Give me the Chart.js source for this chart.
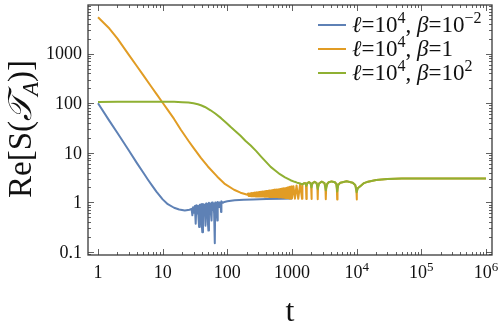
<!DOCTYPE html>
<html>
<head>
<meta charset="utf-8">
<script src="https://cdn.jsdelivr.net/npm/chart.js@4.4.0/dist/chart.umd.min.js"></script>
<style>
  html, body { margin: 0; padding: 0; background: #fff; }
</style>
</head>
<body>
<canvas id="c" width="500" height="329"></canvas>
<script>
/* ---- values (log-log) ---- */

// l=10^4, beta=10^-2
const blueT = [1, 1.5, 2, 3, 4, 5, 6, 7, 8, 10, 12, 15, 18, 22, 26, 28, 28.8, 29.5, 30.5, 31.5, 32.4, 33.2, 34, 35, 36, 36.6,
  37.5, 38.5, 39.5, 40.3, 41, 42, 43, 44, 45, 46, 47, 48, 49, 50, 51, 52, 53.5, 55, 56, 57, 58, 59.5, 61, 62.5, 64, 65,
  66.5, 68, 69, 70, 71, 73, 75, 77, 78.5, 80, 81, 85, 90, 100, 130, 180, 250, 400, 700, 1000];
const blueV = [100, 44, 25, 11.1, 6.2, 4.0, 2.8, 2.1, 1.65, 1.15, 0.92, 0.78, 0.72, 0.69, 0.71, 0.74, 0.55, 0.8, 0.62, 0.85, 0.37, 0.88, 0.6, 0.86, 0.45, 0.32,
  0.9, 0.5, 0.92, 0.35, 0.25, 0.93, 0.55, 0.9, 0.6, 0.34, 0.95, 0.5, 0.92, 0.4, 0.27, 0.98, 0.6, 0.95, 0.55, 0.43, 1.0, 0.7, 0.95, 0.6, 0.15, 1.0,
  0.75, 0.98, 0.55, 0.43, 1.02, 0.8, 1.0, 0.8, 0.95, 0.64, 1.05, 0.98, 1.02, 1.05, 1.1, 1.13, 1.15, 1.17, 1.19, 1.2];

// l=10^4, beta=1
const orangeT = [1, 1.5, 2, 3, 4, 5, 6.6, 8, 10, 12.5, 15, 19, 25, 30, 39, 50, 70, 90, 127, 160, 205,
  209, 212, 216, 220, 224, 228, 232, 236, 240, 245, 250, 254, 259, 264, 269, 274, 279, 284, 290, 295, 301, 307, 313, 319,
  325, 331, 338, 345, 352, 359, 366, 373, 381, 389, 397, 405, 413, 422, 431, 440, 449, 458, 468, 478, 488, 498, 509, 520,
  531, 542, 554, 566, 578, 590, 603, 616, 629, 643, 657, 671, 686, 701, 716, 732, 748, 765, 782, 800, 818, 833, 851, 870,
  889, 909, 930, 952, 976, 1000, 1053, 1111, 1176, 1250, 1333,
  1429, 1450, 1530, 1610, 1645, 1667, 1690, 1730, 1830, 1930, 1975, 2000, 2025, 2080, 2240, 2400,
  2470, 2500, 2530, 2620, 2880, 3180, 3290, 3333, 3380, 3500, 3700, 4100, 4600, 4850, 4940, 5000, 5060, 5200,
  5600, 7000, 8700, 9500, 9880, 10000, 10120, 10500, 11500, 13000, 15000, 20000, 30000, 50000, 100000, 1000000];
const orangeV = [5400, 3200, 2000, 945, 555, 367, 220, 154, 102, 67.5, 48.2, 29.5, 17.5, 12.6, 7.9, 5.3, 3.3, 2.4, 1.8, 1.57, 1.43,
  1.50, 1.34, 1.51, 1.34, 1.52, 1.34, 1.53, 1.33, 1.54, 1.33, 1.55, 1.33, 1.56, 1.33, 1.57, 1.32, 1.58, 1.32, 1.59, 1.32, 1.60, 1.32, 1.62, 1.31,
  1.63, 1.31, 1.64, 1.31, 1.65, 1.31, 1.66, 1.30, 1.68, 1.30, 1.69, 1.30, 1.70, 1.30, 1.72, 1.29, 1.73, 1.29, 1.74, 1.29, 1.76, 1.29, 1.77, 1.28,
  1.79, 1.28, 1.80, 1.28, 1.82, 1.28, 1.83, 1.27, 1.85, 1.27, 1.86, 1.27, 1.88, 1.26, 1.90, 1.25, 1.92, 1.24, 1.94, 1.23, 1.96, 1.22, 2.0, 1.22,
  2.03, 1.2, 2.06, 1.2, 2.09, 1.2, 2.12, 1.19, 2.2, 1.18, 2.3,
  1.18, 2.3, 2.42, 2.42, 2.3, 1.17, 2.3, 2.45, 2.55, 2.45, 2.2, 1.17, 2.2, 2.45, 2.6, 2.45,
  2.1, 1.16, 2.1, 2.4, 2.62, 2.45, 2.0, 1.16, 2.0, 2.35, 2.55, 2.65, 2.55, 2.35, 1.95, 1.15, 1.95, 2.25,
  2.5, 2.66, 2.5, 2.25, 1.9, 1.15, 1.85, 1.95, 2.15, 2.45, 2.62, 2.82, 2.95, 3.02, 3.05, 3.05];

// l=10^4, beta=10^2
const greenT = [1, 2, 5, 10, 15, 20, 25, 30, 35, 39, 45, 55, 65, 80, 95, 113, 135, 160, 190, 230, 280, 330, 390, 468, 550,
  650, 780, 950, 1100, 1200, 1350, 1429, 1530, 1610,
  1667, 1730, 1830, 1930, 2000, 2080, 2240, 2400, 2500, 2620, 2880, 3180, 3333, 3500, 3700, 4100, 4600, 4850,
  5000, 5200, 5600, 7000, 8700, 9500, 10000, 10500, 11500, 13000, 15000, 20000, 30000, 50000, 100000, 1000000];
const greenV = [106, 107, 107.5, 107, 106.5, 105, 103, 100, 95.5, 91, 84, 72, 62, 50, 41, 33, 27, 22, 17.5, 14, 10.8, 8.5, 6.7, 5.2, 4.4,
  3.7, 3.2, 2.8, 2.6, 2.5, 2.4, 2.3, 2.42, 2.42,
  2.15, 2.45, 2.55, 2.45, 2.0, 2.45, 2.6, 2.45, 1.85, 2.4, 2.62, 2.45, 1.75, 2.35, 2.55, 2.65, 2.55, 2.35,
  1.65, 2.25, 2.5, 2.66, 2.5, 2.25, 1.6, 1.95, 2.15, 2.45, 2.62, 2.82, 2.95, 3.02, 3.05, 3.05];

const seriesColors = ['#5E81B5', '#E19C24', '#8FB032'];

// legend entries as [text, style] pieces (style: '' roman, 'i' italic, 'sup' superscript)
const legendLabels = [
  [['ℓ', 'i'], ['=10', ''], ['4', 'sup'], [', ', ''], ['β', 'i'], ['=10', ''], ['−2', 'sup']],
  [['ℓ', 'i'], ['=10', ''], ['4', 'sup'], [', ', ''], ['β', 'i'], ['=1', '']],
  [['ℓ', 'i'], ['=10', ''], ['4', 'sup'], [', ', ''], ['β', 'i'], ['=10', ''], ['2', 'sup']]
];

const xTickValues = [1, 10, 100, 1000, 1e4, 1e5, 1e6];
const xTickLabels = [[['1', '']], [['10', '']], [['100', '']], [['1000', '']],
  [['10', ''], ['4', 'sup']], [['10', ''], ['5', 'sup']], [['10', ''], ['6', 'sup']]];
const yTickValues = [0.1, 1, 10, 100, 1000];
const yTickLabels = ['0.1', '1', '10', '100', '1000'];

const xTitle = 't';
const yTitle = [['Re[S(', ''], ['𝒯', 'i'], ['A', 'sub'], [')]', '']];

/* ---- helpers ---- */
const SERIF = '"Liberation Serif", "DejaVu Serif", serif';

function zip(ts, vs) {
  return ts.map((t, i) => ({ x: t, y: vs[i] }));
}

function pieceFont(st, size) {
  const small = (st === 'sup' || st === 'sub');
  const px = small ? Math.round(size * 0.7) : size;
  const it = (st === 'i' || st === 'sub') ? 'italic ' : '';
  return it + px + 'px ' + SERIF;
}

function drawPieces(ctx, pieces, x, y, size, align) {
  let w = 0;
  pieces.forEach(([s, st]) => { ctx.font = pieceFont(st, size); w += ctx.measureText(s).width; });
  let cx = align === 'center' ? x - w / 2 : x;
  pieces.forEach(([s, st]) => {
    ctx.font = pieceFont(st, size);
    const dy = st === 'sup' ? -size * 0.4 : (st === 'sub' ? size * 0.2 : 0);
    ctx.fillText(s, cx, y + dy);
    cx += ctx.measureText(s).width;
  });
}

// frame, inside ticks, tick labels, titles and legend (Mathematica-like look)
const framePlugin = {
  id: 'frame',
  afterDatasetsDraw(chart) {
    const { ctx, chartArea: a, scales: { x, y } } = chart;
    ctx.save();
    ctx.strokeStyle = '#3a3a3a';
    ctx.lineWidth = 1.3;
    ctx.strokeRect(a.left, a.top, a.right - a.left, a.bottom - a.top);

    ctx.lineWidth = 0.8;
    ctx.beginPath();
    for (let d = -2; d <= 6; d++) {
      for (let m = 1; m <= 9; m++) {
        const v = m * Math.pow(10, d);
        const len = m === 1 ? 6 : 3;
        if (v >= x.min && v <= x.max && d >= 0) {
          const px = Math.round(x.getPixelForValue(v)) + 0.5;
          ctx.moveTo(px, a.bottom); ctx.lineTo(px, a.bottom - len);
          ctx.moveTo(px, a.top); ctx.lineTo(px, a.top + len);
        }
        if (v >= y.min && v <= y.max && d <= 4) {
          const py = Math.round(y.getPixelForValue(v)) + 0.5;
          ctx.moveTo(a.left, py); ctx.lineTo(a.left + len, py);
          ctx.moveTo(a.right, py); ctx.lineTo(a.right - len, py);
        }
      }
    }
    ctx.stroke();

    // tick labels
    ctx.fillStyle = '#111';
    ctx.textBaseline = 'alphabetic';
    ctx.textAlign = 'left';
    xTickValues.forEach((v, i) => {
      drawPieces(ctx, xTickLabels[i], x.getPixelForValue(v), a.bottom + 23, 18, 'center');
    });
    ctx.font = '18px ' + SERIF;
    ctx.textAlign = 'right';
    ctx.textBaseline = 'middle';
    yTickValues.forEach((v, i) => {
      ctx.fillText(yTickLabels[i], a.left - 6, y.getPixelForValue(v) + 1);
    });

    // axis titles
    ctx.textAlign = 'left';
    ctx.textBaseline = 'alphabetic';
    ctx.font = '32px ' + SERIF;
    const tw = ctx.measureText(xTitle).width;
    ctx.fillText(xTitle, (a.left + a.right) / 2 - tw / 2, 321);
    ctx.save();
    ctx.translate(31, 129);
    ctx.rotate(-Math.PI / 2);
    drawPieces(ctx, yTitle, 0, 0, 33, 'center');
    ctx.restore();

    // legend
    legendLabels.forEach((pieces, i) => {
      const ly = 25 + i * 24;
      ctx.strokeStyle = seriesColors[i];
      ctx.lineWidth = 2;
      ctx.beginPath();
      ctx.moveTo(318, ly); ctx.lineTo(346, ly);
      ctx.stroke();
      ctx.fillStyle = '#111';
      drawPieces(ctx, pieces, 352, ly + 7, 23, 'left');
    });
    ctx.restore();
  }
};

new Chart(document.getElementById('c'), {
  type: 'line',
  data: {
    datasets: [
      { label: 'beta=1e-2', data: zip(blueT, blueV), borderColor: seriesColors[0], order: 3 },
      { label: 'beta=1', data: zip(orangeT, orangeV), borderColor: seriesColors[1], order: 2 },
      { label: 'beta=1e2', data: zip(greenT, greenV), borderColor: seriesColors[2], order: 1 }
    ]
  },
  options: {
    responsive: false,
    animation: false,
    devicePixelRatio: 1,
    layout: { padding: { top: 5, right: 8, left: 0, bottom: 0 } },
    elements: {
      point: { radius: 0 },
      line: { borderWidth: 2, tension: 0, borderJoinStyle: 'round' }
    },
    plugins: { legend: { display: false }, tooltip: { enabled: false } },
    scales: {
      x: {
        type: 'logarithmic', min: 0.726, max: 1.24e6,
        ticks: { display: false }, grid: { display: false }, border: { display: false },
        afterFit(s) { s.height = 74; }
      },
      y: {
        type: 'logarithmic', min: 0.087, max: 9550,
        ticks: { display: false }, grid: { display: false }, border: { display: false },
        afterFit(s) { s.width = 88; }
      }
    }
  },
  plugins: [framePlugin]
});
</script>
</body>
</html>
